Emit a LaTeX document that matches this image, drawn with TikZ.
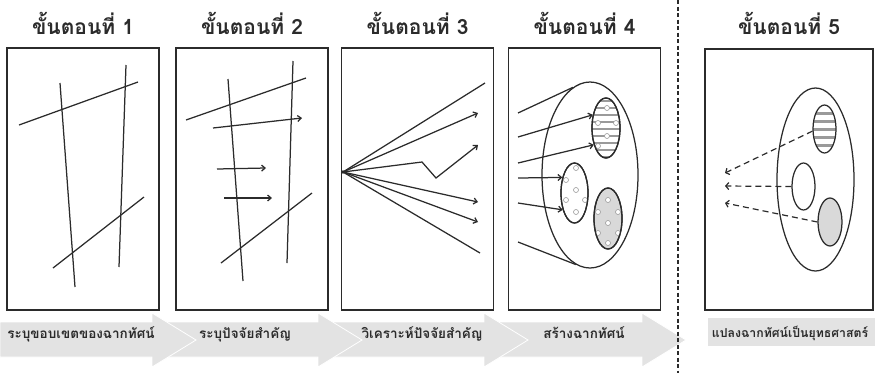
\documentclass[tikz,border=0pt]{standalone}
\usepackage{fontspec}
\newfontfamily\thaifont[Script=Thai]{Loma}
\usetikzlibrary{positioning, shapes.geometric, arrows.meta, calc}
\definecolor{inkgrey}{HTML}{2b2b2b}
\definecolor{bandgrey}{HTML}{e3e3e3}
\definecolor{stripegrey}{HTML}{9a9a9a}
\definecolor{dotfill}{HTML}{d9d9d9}

\begin{document}
\begin{tikzpicture}[
  x=1pt, y=-1pt,
  >={Straight Barb[length=3.5pt, width=6pt]},
  panel/.style={draw=inkgrey, line width=1.4pt, minimum width=152pt,
                minimum height=262pt, inner sep=0pt},
  title/.style={font=\thaifont\bfseries\fontsize{21}{24}\selectfont,
                text=inkgrey, anchor=base, inner sep=0pt},
  bandtext/.style={font=\thaifont\bfseries\fontsize{13.5}{15}\selectfont,
                   text=inkgrey, anchor=base, inner sep=0pt},
  band/.style={fill=bandgrey, draw=white, line width=0.8pt},
  stroke/.style={draw=inkgrey, line width=1.25pt},
  arr/.style={stroke, ->},
  blob/.style={ellipse, draw=inkgrey, line width=1.25pt, inner sep=0pt},
  dot/.style={draw=stripegrey, fill=white, line width=0.6pt},
  hint/.style={draw=inkgrey, line width=1.2pt, dash pattern=on 6pt off 4pt,
               -{Straight Barb[length=3pt, width=7pt]}}
]
\useasboundingbox (0,0) rectangle (875,373);

% bottom band of arrows, drawn right to left so each head overlaps the next tail
\foreach \tail/\tip in {480/686, 316/528, 150/362, 0/196}
  \draw[band] (\tail,322) -- (\tip-44,322) -- (\tip-44,313) -- (\tip,340)
    -- (\tip-44,367) -- (\tip-44,357) -- (\tail,357) -- cycle;
\fill[bandgrey] (708,318) rectangle (875,346);

\node[bandtext] (l1) at (81,338)  {ระบุขอบเขตของฉากทัศน์};
\node[bandtext] (l2) at (245,338) {ระบุปัจจัยสำคัญ};
\node[bandtext] (l3) at (422,338) {วิเคราะห์ปัจจัยสำคัญ};
\node[bandtext] (l4) at (584,338) {สร้างฉากทัศน์};
\node[bandtext, font=\thaifont\bfseries\fontsize{12.3}{14}\selectfont]
  (l5) at (790,337) {แปลงฉากทัศน์เป็นยุทธศาสตร์};

% panels and titles
\foreach \i/\x in {1/83, 2/252, 3/417.5, 4/584.5} {
  \node[panel] (b\i) at (\x,179) {};
  \node[title] (t\i) at (\x,34) {ขั้นตอนที่ \i};
}
\node[panel, minimum width=168pt, minimum height=261pt] (b5) at (789,179.5) {};
\node[title] (t5) at (789,34) {ขั้นตอนที่ 5};

% divider between step 4 and step 5
\draw[draw=inkgrey, line width=1.3pt, dash pattern=on 4pt off 2.5pt] (678,0) -- (678,373);

% step 1: boundary lines
\draw[stroke] (19,125) -- (138,82);
\draw[stroke] (60,83) -- (75,287);
\draw[stroke] (126,65) -- (119,267);
\draw[stroke] (53,268) -- (144,197);

% step 2: boundary lines and factors
\draw[stroke] (186,120) -- (306,78);
\draw[stroke] (228,79) -- (243,281);
\draw[stroke] (293,61) -- (287,263);
\draw[stroke] (221,263) -- (312,193);
\draw[arr] (213,128) -- (302,118);
\draw[arr] (217,169) -- (266,168);
\draw[arr] (224,198) -- (272,198);

% step 3: rays from one point
\coordinate (o3) at (343,172);
\fill[inkgrey] (o3) circle (1.8);
\draw[stroke] (o3) -- (485,83);
\draw[arr] (o3) -- (478,113);
\draw[arr] (o3) -- (422,162) -- (436,178) -- (478,145);
\draw[arr] (o3) -- (478,202);
\draw[arr] (o3) -- (478,222);
\draw[stroke] (o3) -- (480,253);

% step 4: scenario space
\node[blob, minimum width=96pt, minimum height=186pt] (big4) at (590,175) {};
\begin{scope}
  \clip (606,128) ellipse [x radius=14, y radius=30];
  \foreach \y in {101,108,...,157}
    \draw[stripegrey, line width=2pt] (590,\y) -- (622,\y);
\end{scope}
\node[blob, minimum width=28pt, minimum height=60pt] (e4a) at (606,128) {};
\node[blob, minimum width=27pt, minimum height=60pt] (e4b) at (574.5,193) {};
\node[blob, fill=dotfill, minimum width=28pt, minimum height=61pt] (e4c) at (608,218.5) {};
\foreach \p in {(598,123),(616,123),(607,136),(598,146),(607,108)}
  \draw[dot] \p circle (2.5);
\foreach \p in {(576,168),(566,180),(576,190),(566,200),(585,200),(576,212)}
  \draw[dot] \p circle (2.5);
\foreach \p in {(608,200),(598,212),(618,212),(608,223),(598,233),(618,233),(608,243)}
  \draw[dot] \p circle (2.5);
\node[blob, minimum width=28pt, minimum height=60pt] at (e4a) {};
\node[blob, minimum width=27pt, minimum height=60pt] at (e4b) {};
\node[blob, minimum width=28pt, minimum height=61pt] at (e4c) {};

\coordinate (f1) at (518,113);
\coordinate (f2) at (518,137);
\coordinate (f3) at (518,163);
\coordinate (f4) at (518,178);
\coordinate (f5) at (518,203);
\coordinate (f6) at (518,242);
\draw[stroke] (f1) -- (big4.101);
\draw[arr] (f2) -- (e4a.135);
\draw[arr] (f3) -- (e4a.234);
\draw[arr] (f4) -- (e4b.128);
\draw[arr] (f5) -- (e4b.235);
\draw[stroke] (f6) -- (big4.261);

% step 5: from scenarios to strategy
\node[blob, minimum width=77pt, minimum height=183pt] (big5) at (815.5,179.5) {};
\begin{scope}
  \clip (824.5,129) ellipse [x radius=11.5, y radius=24];
  \foreach \y in {113,121,...,149}
    \draw[stripegrey, line width=3pt] (810,\y) -- (840,\y);
\end{scope}
\node[blob, minimum width=23pt, minimum height=48pt] (s5a) at (824.5,129) {};
\node[blob, minimum width=23pt, minimum height=47pt] (s5b) at (803.5,186.5) {};
\node[blob, fill=dotfill, minimum width=24pt, minimum height=48pt] (s5c) at (830,222) {};

\coordinate (g1) at (725,173);
\coordinate (g2) at (725,186);
\coordinate (g3) at (725,203);
\draw[hint] (s5a.190) -- (g1);
\draw[hint] (s5b.west) -- (g2);
\draw[hint] (s5c.west) -- (g3);
\end{tikzpicture}
\end{document}
